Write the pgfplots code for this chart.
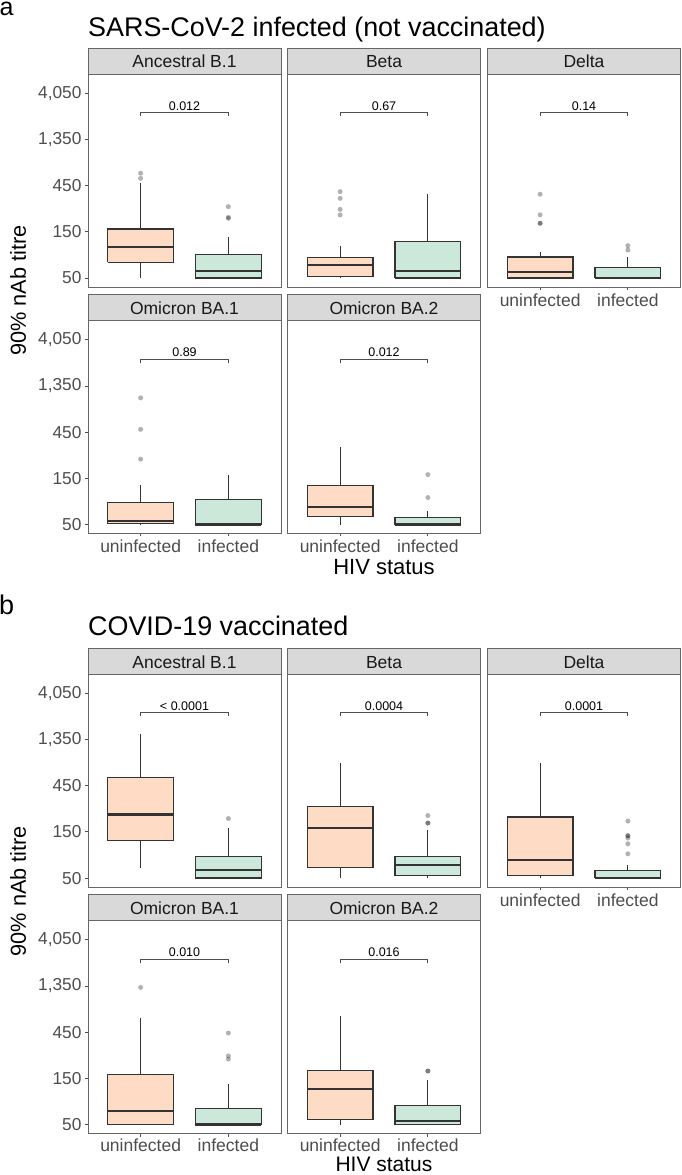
\documentclass[border=0pt]{standalone}
\usepackage{fontspec}
\setmainfont{Liberation Sans}
\usepackage{pgfplots}
\pgfplotsset{compat=1.18}
\definecolor{unfc}{HTML}{FDDBC5}
\definecolor{infc}{HTML}{CCE8DA}
\definecolor{boxlc}{HTML}{333333}
\definecolor{stripfc}{HTML}{D9D9D9}
\definecolor{framec}{HTML}{666666}
\definecolor{tickcc}{HTML}{4D4D4D}
\pgfplotsset{every axis/.append style={
    scale only axis, width=193pt, height=213pt,
    xmin=0.4, xmax=2.6, clip=false,
    axis line style={draw=framec, line width=0.9pt},
    tick align=outside, major tick length=3pt,
    every tick/.append style={draw=tickcc, line width=0.8pt},
    yticklabel style={font=\fontsize{17.3}{20}\selectfont, text=tickcc},
    xticklabel style={font=\fontsize{17.5}{20}\selectfont, text=tickcc},
}}
% #1 left  #2 centre  #3 right  #4 fill  #5 lower whisker  #6 q1  #7 median  #8 q3  #9 upper whisker
\newcommand{\FacBox}[9]{%
  \addplot[draw=boxlc, line width=1.1pt, mark=none, forget plot] coordinates {(#2,#5) (#2,#6)};
  \addplot[draw=boxlc, line width=1.1pt, mark=none, forget plot] coordinates {(#2,#8) (#2,#9)};
  \addplot[draw=boxlc, fill=#4, line width=1.1pt, mark=none, forget plot] coordinates {(#1,#6) (#3,#6) (#3,#8) (#1,#8) (#1,#6)};
  \addplot[draw=boxlc, line width=2.3pt, mark=none, forget plot] coordinates {(#1,#7) (#3,#7)};
}
\newcommand{\UBox}[5]{\FacBox{0.625}{1}{1.375}{unfc}{#1}{#2}{#3}{#4}{#5}}
\newcommand{\IBox}[5]{\FacBox{1.625}{2}{2.375}{infc}{#1}{#2}{#3}{#4}{#5}}
\newcommand{\FacOut}[1]{\addplot[only marks, mark=*, mark size=2.5pt, draw opacity=0, mark options={draw opacity=0, line width=0pt, fill=black, fill opacity=0.3}, forget plot] coordinates {#1};}
\newcommand{\FacStrip}[1]{\draw[draw=framec, line width=0.9pt, fill=stripfc] (rel axis cs:0,1) rectangle ([yshift=26pt]rel axis cs:1,1);
  \node[anchor=base, inner sep=0pt, text=black!90, font=\fontsize{17.5}{20}\selectfont] at ([yshift=6pt]rel axis cs:0.5,1) {#1};}
\newcommand{\FacP}[1]{\draw[draw=tickcc, line width=0.8pt] (axis cs:1,2360) -- (axis cs:1,2560) -- (axis cs:2,2560) -- (axis cs:2,2360);
  \node[anchor=base, inner sep=0pt, font=\fontsize{12.5}{14}\selectfont] at ([yshift=2.5pt]axis cs:1.5,2560) {#1};}
\begin{document}
\begin{tikzpicture}
\useasboundingbox (0pt,0pt) rectangle (681pt,-1175pt);
% ---------------- panel a ----------------
\node[anchor=base west, inner sep=0pt, font=\fontsize{25}{28}\selectfont] at (-0.5pt,-16pt) {a};
\node[anchor=base west, inner sep=0pt, font=\fontsize{26.9}{30}\selectfont] at (88pt,-36.5pt) {SARS-CoV-2 infected (not vaccinated)};
\node[rotate=90, inner sep=0pt, font=\fontsize{21.7}{24}\selectfont] at (18pt,-290.7pt) {90\% nAb titre};
\node[anchor=base, inner sep=0pt, font=\fontsize{22}{26}\selectfont] at (384pt,-574.3pt) {HIV status};

\begin{axis}[at={(88pt,-287pt)}, ymode=log, ymin=40.4, ymax=6410,
  xtick=\empty, ytick={50,150,450,1350,4050}, yticklabels={50,150,450,{1,350},{4,050}},
  yminorticks=false, ytick pos=left]
\FacStrip{Ancestral B.1}
\UBox{50}{72.6}{105}{160.6}{484}
\IBox{50}{50}{59.5}{87.8}{134}
\FacOut{(1,605) (1,536)}
\FacOut{(2,273) (2,207) (2,212)}
\FacP{0.012}
\end{axis}

\begin{axis}[at={(287.5pt,-287pt)}, ymode=log, ymin=40.4, ymax=6410,
  xtick=\empty, ytick=\empty, yminorticks=false]
\FacStrip{Beta}
\UBox{50}{51.6}{67.7}{81}{108}
\IBox{50}{50}{59.5}{118}{367}
\FacOut{(1,390) (1,333) (1,256) (1,224)}
\FacP{0.67}
\end{axis}

\begin{axis}[at={(487.5pt,-287pt)}, ymode=log, ymin=40.4, ymax=6410,
  xtick={1,2}, xticklabels={uninfected,infected}, xtick pos=left, ytick=\empty, yminorticks=false]
\FacStrip{Delta}
\UBox{50}{50}{58.1}{82.4}{93.5}
\IBox{50}{50}{50.4}{64.5}{83}
\FacOut{(1,367) (1,225) (1,184) (1,184)}
\FacOut{(2,97.4) (2,108)}
\FacP{0.14}
\end{axis}

\begin{axis}[at={(88pt,-533.5pt)}, ymode=log, ymin=40.4, ymax=6410,
  xtick={1,2}, xticklabels={uninfected,infected}, xtick pos=left,
  ytick={50,150,450,1350,4050}, yticklabels={50,150,450,{1,350},{4,050}},
  yminorticks=false, ytick pos=left]
\FacStrip{Omicron BA.1}
\UBox{50}{51}{54.6}{85.2}{128.6}
\IBox{50}{50}{50}{90}{164}
\FacOut{(1,1016) (1,481) (1,237)}
\FacP{0.89}
\end{axis}

\begin{axis}[at={(287.5pt,-533.5pt)}, ymode=log, ymin=40.4, ymax=6410,
  xtick={1,2}, xticklabels={uninfected,infected}, xtick pos=left, ytick=\empty, yminorticks=false]
\FacStrip{Omicron BA.2}
\UBox{50}{61}{76.2}{126.6}{318}
\IBox{50}{50}{50}{59.6}{69.3}
\FacOut{(2,164) (2,95)}
\FacP{0.012}
\end{axis}

% ---------------- panel b ----------------
\node[anchor=base west, inner sep=0pt, font=\fontsize{27}{30}\selectfont] at (-1pt,-614pt) {b};
\node[anchor=base west, inner sep=0pt, font=\fontsize{26.9}{30}\selectfont] at (88pt,-635pt) {COVID-19 vaccinated};
\node[rotate=90, inner sep=0pt, font=\fontsize{21.7}{24}\selectfont] at (18pt,-891.2pt) {90\% nAb titre};
\node[anchor=base, inner sep=0pt, font=\fontsize{21}{24}\selectfont] at (384pt,-1171.5pt) {HIV status};

\begin{axis}[at={(88pt,-887pt)}, ymode=log, ymin=40.4, ymax=6410,
  xtick=\empty, ytick={50,150,450,1350,4050}, yticklabels={50,150,450,{1,350},{4,050}},
  yminorticks=false, ytick pos=left]
\FacStrip{Ancestral B.1}
\UBox{64}{121.6}{227}{543}{1553}
\IBox{50}{50}{61}{83}{166}
\FacOut{(2,206)}
\FacP{< 0.0001}
\end{axis}

\begin{axis}[at={(287.5pt,-887pt)}, ymode=log, ymin=40.4, ymax=6410,
  xtick=\empty, ytick=\empty, yminorticks=false]
\FacStrip{Beta}
\UBox{50}{63.9}{165}{277}{772}
\IBox{50}{53}{68}{83.6}{155}
\FacOut{(2,221) (2,185) (2,185)}
\FacP{0.0004}
\end{axis}

\begin{axis}[at={(487.5pt,-887pt)}, ymode=log, ymin=40.4, ymax=6410,
  xtick={1,2}, xticklabels={uninfected,infected}, xtick pos=left, ytick=\empty, yminorticks=false]
\FacStrip{Delta}
\UBox{50}{52.7}{76.7}{213.6}{780}
\IBox{50}{50}{50.3}{59.5}{67.5}
\FacOut{(2,194) (2,137) (2,137) (2,129.5) (2,113) (2,89)}
\FacP{0.0001}
\end{axis}

\begin{axis}[at={(88pt,-1133.5pt)}, ymode=log, ymin=40.4, ymax=6410,
  xtick={1,2}, xticklabels={uninfected,infected}, xtick pos=left,
  xticklabel style={yshift=1.5pt},
  ytick={50,150,450,1350,4050}, yticklabels={50,150,450,{1,350},{4,050}},
  yminorticks=false, ytick pos=left]
\FacStrip{Omicron BA.1}
\UBox{50}{50}{69.3}{166}{638}
\IBox{50}{50}{50}{73.8}{131.7}
\FacOut{(1,1305)}
\FacOut{(2,441) (2,256) (2,237)}
\FacP{0.010}
\end{axis}

\begin{axis}[at={(287.5pt,-1133.5pt)}, ymode=log, ymin=40.4, ymax=6410,
  xtick={1,2}, xticklabels={uninfected,infected}, xtick pos=left,
  xticklabel style={yshift=1.5pt}, ytick=\empty, yminorticks=false]
\FacStrip{Omicron BA.2}
\UBox{50}{55.9}{116}{181}{665}
\IBox{50}{50}{54.6}{79.3}{146}
\FacOut{(2,178.6) (2,178.6)}
\FacP{0.016}
\end{axis}
\end{tikzpicture}
\end{document}
